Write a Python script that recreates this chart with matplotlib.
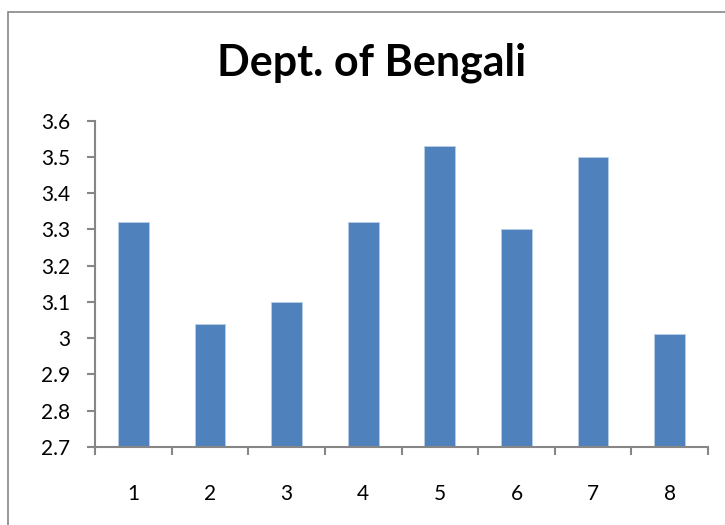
import numpy as np
import matplotlib
matplotlib.use('Agg')
import matplotlib.pyplot as plt
from matplotlib.patches import Rectangle
from matplotlib.ticker import FuncFormatter

semesters = ['1', '2', '3', '4', '5', '6', '7', '8']
gpa = [3.32, 3.04, 3.10, 3.32, 3.53, 3.30, 3.50, 3.01]

fig = plt.figure(figsize=(7.25, 5.25), dpi=100)
ax = fig.add_axes([0.131, 0.149, 0.9766 - 0.131, 0.770 - 0.149])

x = np.arange(1, len(semesters) + 1)
ax.bar(x, [v - 2.7 for v in gpa], bottom=2.7, width=0.4,
       color='#4F81BD', edgecolor='#b9cde5', linewidth=0.6, zorder=2)

ax.set_xlim(0.5, 8.5)
ax.set_ylim(2.7, 3.6)
ax.set_yticks(np.arange(2.7, 3.61, 0.1))
ax.yaxis.set_major_formatter(FuncFormatter(lambda v, p: '{:g}'.format(round(v, 1))))

# category labels in the middle, ticks on the boundaries
ax.set_xticks(np.arange(0.5, 8.6, 1))
ax.set_xticklabels([])
ax.set_xticks(x, minor=True)
ax.set_xticklabels(semesters, minor=True)

for s in ['top', 'right']:
    ax.spines[s].set_visible(False)
for s in ['left', 'bottom']:
    ax.spines[s].set_color('#868686')
    ax.spines[s].set_linewidth(1.5)

ax.tick_params(axis='y', which='major', direction='out', length=6, width=1.5,
               color='#868686', pad=12)
ax.tick_params(axis='x', which='major', direction='out', length=6, width=1.5,
               color='#868686')
ax.tick_params(axis='x', which='minor', length=0, pad=27)
for t in ax.get_yticklabels() + ax.get_xticklabels(minor=True):
    t.set_fontfamily('Lato')
    t.set_fontsize(15)

fig.text(0.513, 0.880, 'Dept. of Bengali', ha='center', va='center',
         family='Lato', fontweight='bold', fontsize=31)

# chart border (only top and left edges fall inside the image)
fig.patches.append(Rectangle((8 / 725, -0.1), 1.2, (525 - 12) / 525 + 0.1,
                             transform=fig.transFigure, fill=False,
                             edgecolor='#868686', linewidth=1.2))

fig.savefig('out.png', dpi=100)
